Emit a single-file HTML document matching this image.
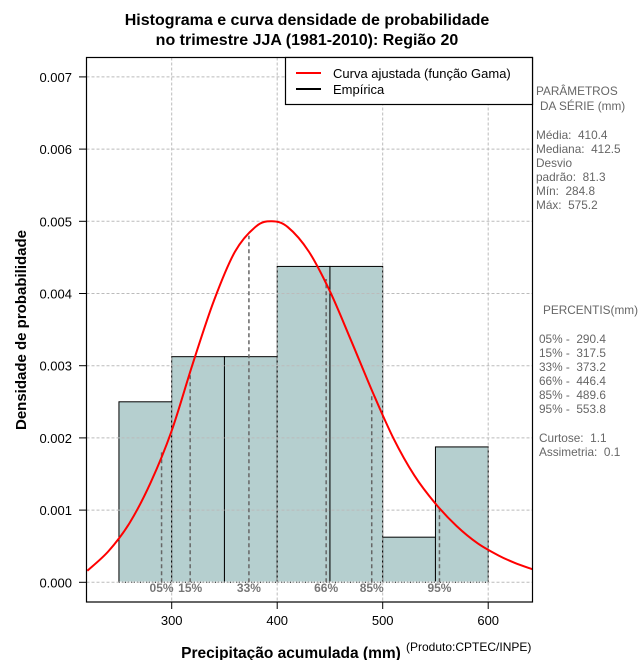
<!DOCTYPE html>
<html><head><meta charset="utf-8"><style>
body{margin:0;background:#fff;}
svg{display:block;font-family:"Liberation Sans",sans-serif;}
.side{font-size:11.8px;fill:#666;}
</style></head><body>
<svg id="chart" width="640" height="660" viewBox="0 0 640 660" xmlns="http://www.w3.org/2000/svg">
<text x="307" y="25" text-anchor="middle" font-size="16" font-weight="bold">Histograma e curva densidade de probabilidade</text>
<text x="307" y="45" text-anchor="middle" font-size="16" font-weight="bold">no trimestre JJA (1981-2010): Região 20</text>
<g id="bars"></g>
<g id="grid"></g>
<g id="pct"></g>
<path id="curve" fill="none" stroke="#f00" stroke-width="2"/>
<rect x="86.5" y="57.5" width="446" height="544.5" fill="none" stroke="#000" stroke-width="1.2"/>
<g id="axes"></g>
<g>
<rect x="285.5" y="57.5" width="247" height="47" fill="#fff" stroke="#000" stroke-width="1.2"/>
<line x1="296" y1="73" x2="321" y2="73" stroke="#f00" stroke-width="2"/>
<text x="333" y="78" font-size="13">Curva ajustada (função Gama)</text>
<line x1="296" y1="89" x2="321" y2="89" stroke="#000" stroke-width="2"/>
<text x="333" y="94" font-size="13">Empírica</text>
</g>
<g class="side">
<text x="536" y="95">PARÂMETROS</text>
<text x="540" y="110">DA SÉRIE (mm)</text>
<text x="536" y="139">Média:&#160; 410.4</text>
<text x="536" y="153">Mediana:&#160; 412.5</text>
<text x="536" y="167">Desvio</text>
<text x="536" y="181">padrão:&#160; 81.3</text>
<text x="536" y="195">Mín:&#160; 284.8</text>
<text x="536" y="209">Máx:&#160; 575.2</text>
<text x="543" y="314">PERCENTIS(mm)</text>
<text x="539" y="343">05% -&#160; 290.4</text>
<text x="539" y="357">15% -&#160; 317.5</text>
<text x="539" y="371">33% -&#160; 373.2</text>
<text x="539" y="385">66% -&#160; 446.4</text>
<text x="539" y="399">85% -&#160; 489.6</text>
<text x="539" y="413">95% -&#160; 553.8</text>
<text x="539" y="442">Curtose:&#160; 1.1</text>
<text x="539" y="456">Assimetria:&#160; 0.1</text>
</g>
<text transform="translate(26,330) rotate(-90)" text-anchor="middle" font-size="15" font-weight="bold">Densidade de probabilidade</text>
<text x="291" y="658" text-anchor="middle" font-size="15.5" font-weight="bold">Precipitação acumulada (mm)</text>
<text x="406" y="651" font-size="12">(Produto:CPTEC/INPE)</text>
</svg>
<script>
const binStarts=[250,300,350,400,450,500,550];
const binWidth=50;
const binDensity=[0.0025,0.003125,0.003125,0.004375,0.004375,0.000625,0.001875];
const curveX=[220,240,260,280,300,320,340,360,380,395,410,430,450,470,490,510,530,550,570,590,610,625,642];
const curveY=[0.00016,0.00043,0.00082,0.00138,0.0021,0.00303,0.0039,0.00458,0.00493,0.005,0.00492,0.00458,0.00403,0.00335,0.00265,0.002,0.00148,0.00109,0.00078,0.00054,0.00037,0.00027,0.00018];
const pctLabels=["05%","15%","33%","66%","85%","95%"];
const pctValues=[290.4,317.5,373.2,446.4,489.6,553.8];
const pctHeights=[0.0018,0.0029,0.0048,0.0042,0.0026,0.00105];
const xTicks=[300,400,500,600];
const yTicks=[0,0.001,0.002,0.003,0.004,0.005,0.006,0.007];
const yTickLabels=["0.000","0.001","0.002","0.003","0.004","0.005","0.006","0.007"];
const NS="http://www.w3.org/2000/svg";
const X=v=>171.7+(v-300)*1.055;
const Y=v=>582.3-v*72.2e3;
function mk(tag,attrs,parent){const e=document.createElementNS(NS,tag);for(const k in attrs)e.setAttribute(k,attrs[k]);parent.appendChild(e);return e;}
const grid=document.getElementById('grid'),bars=document.getElementById('bars'),pct=document.getElementById('pct'),axes=document.getElementById('axes');
xTicks.forEach(t=>{const l=mk('line',{x1:X(t),x2:X(t),y1:57.5,y2:602,stroke:'#bbb','stroke-dasharray':'3,2'},grid);


const tk=mk('line',{x1:X(t),x2:X(t),y1:602,y2:609,stroke:'#000'},axes);


const tx=mk('text',{x:X(t),y:625,'text-anchor':'middle','font-size':13},axes);tx.textContent=t;

});
yTicks.forEach((t,i)=>{const l=mk('line',{x1:86.5,x2:532.5,y1:Y(t),y2:Y(t),stroke:'#bbb','stroke-dasharray':'3,2'},grid);


const tk=mk('line',{x1:79,x2:86.5,y1:Y(t),y2:Y(t),stroke:'#000'},axes);


const tx=mk('text',{x:72,y:Y(t)+5,'text-anchor':'end','font-size':13},axes);tx.textContent=yTickLabels[i];

});
binStarts.forEach((s,i)=>{const r=mk('rect',{x:X(s),y:Y(binDensity[i]),width:X(s+binWidth)-X(s),height:Y(0)-Y(binDensity[i]),fill:'#b5cfcf',stroke:'#000','stroke-width':1},bars);

});
const bl=mk('line',{x1:X(binStarts[0]),x2:X(binStarts[binStarts.length-1]+binWidth),y1:Y(0),y2:Y(0),stroke:'#fff','stroke-width':1.5},bars);
const bl2=mk('line',{x1:X(binStarts[0]),x2:X(binStarts[binStarts.length-1]+binWidth),y1:Y(0),y2:Y(0),stroke:'#000','stroke-dasharray':'1,2'},bars);


pctValues.forEach((v,i)=>{const l=mk('line',{x1:X(v),x2:X(v),y1:Y(0),y2:Y(pctHeights[i]),stroke:'#666','stroke-width':1.5,'stroke-dasharray':'4,3'},pct);


const t=mk('text',{x:X(v),y:592,'text-anchor':'middle','font-size':12,'font-weight':'bold',fill:'#777'},pct);t.textContent=pctLabels[i];

});
const pts=curveX.map((x,i)=>[X(x),Y(curveY[i])]);
let d='M'+pts[0][0]+','+pts[0][1];
for(let i=0;i<pts.length-1;i++){const p0=pts[Math.max(0,i-1)],p1=pts[i],p2=pts[i+1],p3=pts[Math.min(pts.length-1,i+2)];
d+=' C'+(p1[0]+(p2[0]-p0[0])/6)+','+(p1[1]+(p2[1]-p0[1])/6)+' '+(p2[0]-(p3[0]-p1[0])/6)+','+(p2[1]-(p3[1]-p1[1])/6)+' '+p2[0]+','+p2[1];}
const c=document.getElementById('curve');c.setAttribute('d',d);
const cp=mk('clipPath',{id:'clip'},document.getElementById('chart'));mk('rect',{x:86.5,y:57.5,width:446,height:544.5},cp);
c.setAttribute('clip-path','url(#clip)');
</script>
</body></html>
